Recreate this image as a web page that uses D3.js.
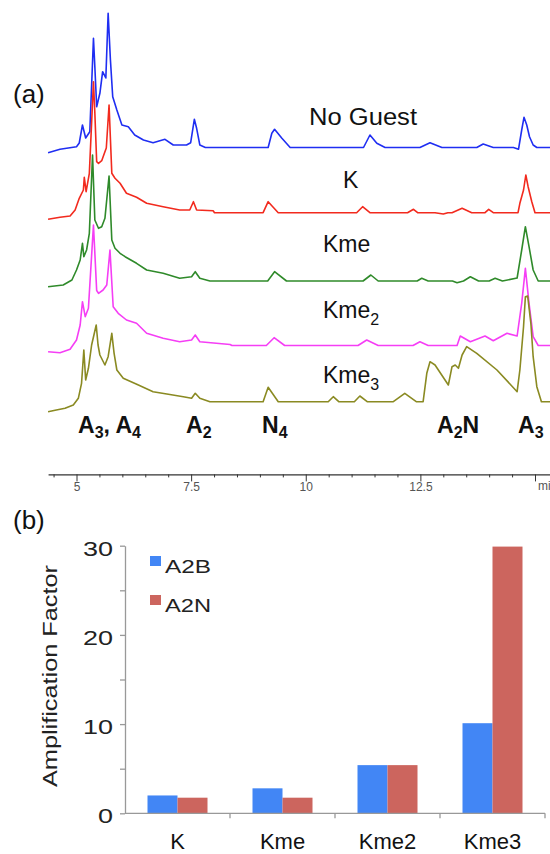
<!DOCTYPE html>
<html>
<head>
<meta charset="utf-8">
<script src="https://cdn.jsdelivr.net/npm/d3@7"></script>
<style>
  body { margin: 0; background: #fff; }
  svg { display: block; font-family: 'Liberation Sans', Arial, sans-serif; }
</style>
</head>
<body>
<div id="chart"></div>
<script>
// ---- (a) chromatograms: [time (min), signal] ----
const noGuest = [[4.38,-5.2],[4.64,-1.8],[5.00,0.8],[5.06,4.5],[5.13,22.5],[5.20,9.5],[5.29,15.8],[5.37,109.2],[5.40,80.8],[5.44,40.8],[5.51,54.2],[5.57,75.8],[5.64,69.5],[5.69,134.2],[5.74,87.5],[5.79,50.8],[5.88,37.5],[5.99,22.5],[6.13,20.8],[6.27,12.5],[6.46,7.5],[6.67,4.8],[6.93,8.2],[7.11,2.5],[7.40,2.5],[7.49,4.8],[7.57,28.2],[7.62,19.2],[7.69,2.5],[7.81,0],[9.18,0],[9.26,14.2],[9.32,18.2],[9.48,9.2],[9.66,0],[11.26,0],[11.40,12.5],[11.55,4.2],[11.73,0],[12.49,0],[12.71,4.8],[12.97,0],[13.73,0],[13.87,3.5],[14.09,0],[14.53,0],[14.64,-1.8],[14.71,17.5],[14.76,30.2],[14.82,22.5],[14.88,10.8],[14.96,2.5],[15.04,0],[15.35,0]];
const k = [[4.38,-6.6],[4.64,-4.6],[4.86,-3.3],[4.97,2.7],[5.06,14.4],[5.15,22.7],[5.17,35.4],[5.21,21],[5.28,39.4],[5.37,131],[5.40,100],[5.44,51],[5.48,49.4],[5.55,52],[5.62,61],[5.65,64.7],[5.71,107.7],[5.77,39.4],[5.84,34.4],[5.95,29.4],[6.09,19.4],[6.31,15.4],[6.53,9.4],[6.89,6],[7.25,2.7],[7.47,2.7],[7.55,11],[7.62,2.7],[7.98,2],[8.01,0],[9.07,0],[9.18,11],[9.40,0],[11.11,0],[11.24,6],[11.40,0],[12.22,0],[12.35,3.4],[12.44,0],[12.82,0],[13.00,-1.3],[13.10,0],[13.19,0],[13.41,4.4],[13.62,0],[13.91,0],[13.99,3.4],[14.09,0],[14.63,0],[14.67,9.4],[14.75,22.7],[14.80,37.7],[14.85,26],[14.93,11],[15.00,0],[15.35,0]];
const kme = [[4.38,-5.7],[4.71,-4],[4.90,1],[5.00,11],[5.08,21],[5.13,37.7],[5.16,24.3],[5.22,31],[5.28,47.7],[5.35,126],[5.40,61],[5.48,52.7],[5.55,54.3],[5.62,62.7],[5.71,105],[5.77,41],[5.84,32.7],[5.95,27.7],[6.06,24.3],[6.31,17.7],[6.53,11],[6.89,7.7],[7.25,2.7],[7.51,4.3],[7.59,9.3],[7.69,2.7],[7.91,0],[9.17,0],[9.32,9.3],[9.58,0],[11.25,0],[11.42,6],[11.58,0],[12.43,0],[12.53,2.7],[12.67,0],[13.20,0],[13.30,-1.7],[13.44,0],[13.59,4.3],[13.77,0],[14.00,0],[14.13,2.7],[14.29,0],[14.61,3],[14.71,31],[14.79,54.3],[14.87,34.3],[14.96,11],[15.07,0],[15.35,0]];
const kme2 = [[4.38,-6.2],[4.64,-7.2],[4.86,-3.8],[5.00,5.5],[5.08,20.5],[5.13,43.8],[5.19,28.8],[5.26,37.2],[5.37,120.5],[5.44,55],[5.48,52.2],[5.58,55.5],[5.66,60.5],[5.73,95.5],[5.80,38.8],[5.91,32.2],[6.09,25.5],[6.31,22.2],[6.53,12.2],[6.89,7.2],[7.25,3.8],[7.51,5.5],[7.59,10.5],[7.69,3.8],[8.35,1],[8.39,0],[9.14,0],[9.31,7.8],[9.54,0],[11.14,0],[11.33,5.5],[11.58,0],[12.34,0],[12.49,3.8],[12.67,0],[13.30,0],[13.37,9.5],[13.59,3.8],[13.91,9.5],[14.09,4.8],[14.39,12.2],[14.61,9.5],[14.71,42.2],[14.79,77.2],[14.87,42.2],[14.96,8.8],[15.07,0],[15.35,0]];
const kme3 = [[4.38,-10],[4.56,-8.3],[4.75,-6.6],[4.93,-3.3],[5.04,3.4],[5.11,18.4],[5.16,51.7],[5.20,21.7],[5.26,33.4],[5.33,56.7],[5.43,76.7],[5.47,56.7],[5.51,46.7],[5.62,36.7],[5.69,45],[5.77,68.4],[5.82,48.4],[5.88,31.7],[6.02,23.4],[6.35,16.7],[6.67,10],[6.97,7.7],[7.33,5],[7.51,3.4],[7.59,8.4],[7.69,3.4],[7.91,0],[9.07,0],[9.18,14.4],[9.40,0],[10.49,0],[10.60,5],[10.72,0],[11.06,0],[11.18,5.7],[11.34,0],[11.91,0],[12.16,8.4],[12.41,0],[12.56,0],[12.64,28.4],[12.71,40],[12.82,36.7],[13.11,16.7],[13.19,35],[13.26,36.7],[13.33,33.4],[13.41,46.7],[13.51,55],[13.73,48.4],[14.17,31.7],[14.61,10],[14.67,31.7],[14.75,75],[14.79,105],[14.84,105.7],[14.91,78.4],[14.96,45],[15.04,15],[15.14,0],[15.35,0]];

const traces = [noGuest, k, kme, kme2, kme3];
const traceOffsets = [312.5, 247.3, 179, 114.5, 58.3];
const traceColors = ['#1f2ef2', '#f22a1e', '#2f8a2a', '#f53ef5', '#8a8a22'];
const xTicks = d3.range(4.5, 15.01, 0.5);

// ---- (b) amplification factors ----
const categories = ['K', 'Kme', 'Kme2', 'Kme3'];
const a2b = [2.0, 2.8, 5.4, 10.1];
const a2n = [1.75, 1.75, 5.4, 29.9];
const seriesNames = ['A2B', 'A2N'];
const barColors = ['#4286f5', '#cc655e'];
const yTicks = [0, 5, 10, 15, 20, 25, 30];

const width = 550;
const height = 854;

const svg = d3.select('#chart')
  .append('svg')
  .attr('width', width)
  .attr('height', height)
  .attr('viewBox', [0, 0, width, height]);

// ===== panel (a) =====
const x = d3.scaleLinear().domain([5, 15]).range([76.5, 535]);
const y = d3.scaleLinear().domain([0, 460]).range([460, 0]);

const line = d3.line()
  .x(d => x(d[0]))
  .y(d => y(d[1]));

traces.forEach((tr, i) => {
  svg.append('path')
    .datum(tr.map(d => [d[0], d[1] + traceOffsets[i]]))
    .attr('fill', 'none')
    .attr('stroke', traceColors[i])
    .attr('stroke-width', 1.6)
    .attr('stroke-linejoin', 'round')
    .attr('d', line);
});

// time axis
const xAxisScale = x.copy().domain([4.38, 15.6]).range([x(4.38), x(15.6)]);
const xAxisG = svg.append('g')
  .attr('transform', 'translate(0,474.4)')
  .call(d3.axisBottom(xAxisScale)
    .tickValues(xTicks)
    .tickSize(3)
    .tickSizeOuter(0)
    .tickPadding(5)
    .tickFormat(d => (d % 2.5 === 0 && d < 15) ? d3.format('~g')(d) : ''));
xAxisG.select('.domain').attr('stroke', '#333').attr('stroke-width', 1.3);
xAxisG.selectAll('.tick line')
  .attr('stroke', '#333')
  .attr('y2', d => d % 2.5 === 0 ? 7 : 3);
xAxisG.selectAll('.tick text')
  .attr('fill', '#555')
  .style('font-size', '12px');
// unit label, cut by the right edge as in the source figure
svg.append('text')
  .attr('x', x(15) + 3)
  .attr('y', 490)
  .attr('fill', '#555')
  .style('font-size', '12px')
  .text('min');

// trace names
const traceLabels = [
  { t: 'No Guest', sub: '', x: 309, y: 125, w: 108 },
  { t: 'K', sub: '', x: 343, y: 188, w: 0 },
  { t: 'Kme', sub: '', x: 323, y: 252, w: 0 },
  { t: 'Kme', sub: '2', x: 323, y: 318, w: 0 },
  { t: 'Kme', sub: '3', x: 323, y: 383, w: 0 }
];
traceLabels.forEach(l => {
  const t = svg.append('text')
    .attr('x', l.x)
    .attr('y', l.y)
    .attr('fill', '#111')
    .style('font-size', '23px');
  t.append('tspan').text(l.t);
  if (l.sub) {
    t.append('tspan').attr('dy', 7).style('font-size', '16px').text(l.sub);
  }
  if (l.w) t.attr('textLength', l.w).attr('lengthAdjust', 'spacingAndGlyphs');
});

// peak assignments
const peakLabels = [
  { x: 78, parts: [['A', ''], ['3', 's'], [', A', ''], ['4', 's']] },
  { x: 186, parts: [['A', ''], ['2', 's']] },
  { x: 262, parts: [['N', ''], ['4', 's']] },
  { x: 437, parts: [['A', ''], ['2', 's'], ['N', '']] },
  { x: 518, parts: [['A', ''], ['3', 's']] }
];
peakLabels.forEach(p => {
  const t = svg.append('text')
    .attr('x', p.x)
    .attr('y', 433)
    .attr('fill', '#111')
    .style('font-size', '23px')
    .style('font-weight', 'bold');
  let down = false;
  p.parts.forEach(([s, kind]) => {
    const ts = t.append('tspan').text(s);
    if (kind === 's') {
      ts.attr('dy', 5).style('font-size', '16px');
      down = true;
    } else if (down) {
      ts.attr('dy', -5);
      down = false;
    }
  });
});

svg.append('text')
  .attr('x', 13).attr('y', 103)
  .style('font-size', '26px')
  .attr('fill', '#111')
  .text('(a)');

// ===== panel (b) =====
const x0 = d3.scaleBand()
  .domain(categories)
  .range([125, 545])
  .padding(0);
const x1 = d3.scaleBand()
  .domain(seriesNames)
  .range([0, x0.bandwidth()])
  .paddingInner(0)
  .paddingOuter(0.75);
const yb = d3.scaleLinear().domain([0, 30]).range([813.3, 545.7]);

const barData = categories.map((c, i) => ({ cat: c, values: [a2b[i], a2n[i]] }));

const groups = svg.append('g')
  .selectAll('g')
  .data(barData)
  .join('g')
  .attr('transform', d => `translate(${x0(d.cat)},0)`);
groups.selectAll('rect')
  .data(d => d.values.map((v, j) => ({ key: seriesNames[j], v: v, j: j })))
  .join('rect')
  .attr('x', d => x1(d.key))
  .attr('y', d => yb(d.v))
  .attr('width', x1.bandwidth())
  .attr('height', d => yb(0) - yb(d.v))
  .attr('fill', d => barColors[d.j]);

// y axis
const yAxisG = svg.append('g')
  .attr('transform', 'translate(125,0)')
  .call(d3.axisLeft(yb)
    .tickValues(yTicks)
    .tickSize(5)
    .tickSizeOuter(0)
    .tickPadding(7)
    .tickFormat(d => d % 10 === 0 ? d : ''));
yAxisG.select('.domain').attr('stroke', '#999').attr('stroke-width', 1.3);
yAxisG.selectAll('.tick line').attr('stroke', '#999').attr('stroke-width', 1.3);
yAxisG.selectAll('.tick text')
  .attr('fill', '#222')
  .attr('dy', '0.45em')
  .style('font-size', '21px')
  .each(function (d) {
    if (d % 10 === 0) {
      d3.select(this)
        .attr('textLength', String(d).length * 15)
        .attr('lengthAdjust', 'spacingAndGlyphs');
    }
  });

// x axis
const xAxisB = svg.append('g');
xAxisB.append('line')
  .attr('x1', x0.range()[0]).attr('x2', x0.range()[1])
  .attr('y1', yb(0)).attr('y2', yb(0))
  .attr('stroke', '#999').attr('stroke-width', 1.3);
xAxisB.selectAll('.sep')
  .data(categories)
  .join('line')
  .attr('x1', d => x0(d) + x0.bandwidth())
  .attr('x2', d => x0(d) + x0.bandwidth())
  .attr('y1', yb(0)).attr('y2', yb(0) + 5)
  .attr('stroke', '#999').attr('stroke-width', 1.3);
xAxisB.selectAll('.lbl')
  .data(categories)
  .join('text')
  .attr('x', d => x0(d) + x0.bandwidth() / 2)
  .attr('y', 849)
  .attr('text-anchor', 'middle')
  .attr('fill', '#111')
  .style('font-size', '22px')
  .text(d => d);

svg.append('text')
  .attr('transform', 'translate(57,676) rotate(-90)')
  .attr('text-anchor', 'middle')
  .attr('fill', '#222')
  .style('font-size', '21px')
  .attr('textLength', 222)
  .attr('lengthAdjust', 'spacingAndGlyphs')
  .text('Amplification Factor');

// legend
const legend = svg.append('g');
seriesNames.forEach((s, i) => {
  legend.append('rect')
    .attr('x', 150).attr('y', 556 + i * 39)
    .attr('width', 11).attr('height', 10)
    .attr('fill', barColors[i]);
  legend.append('text')
    .attr('x', 165).attr('y', 573 + i * 39)
    .attr('fill', '#222')
    .style('font-size', '19px')
    .attr('textLength', 46)
    .attr('lengthAdjust', 'spacingAndGlyphs')
    .text(s);
});

svg.append('text')
  .attr('x', 13).attr('y', 529)
  .style('font-size', '26px')
  .attr('fill', '#111')
  .text('(b)');
</script>
</body>
</html>
